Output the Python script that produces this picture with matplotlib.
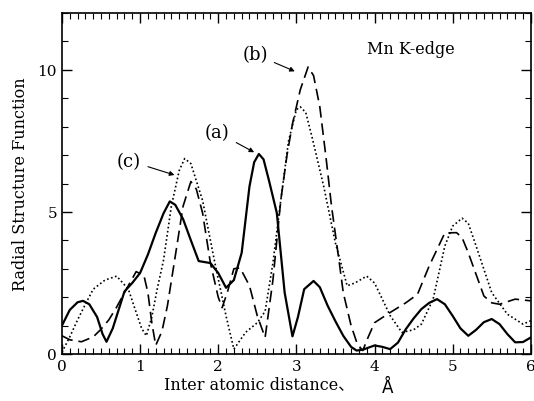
import matplotlib
matplotlib.use("Agg")
import matplotlib.pyplot as plt
from matplotlib.ticker import MultipleLocator

# curve (a): solid
xa = [0.0, 0.1, 0.2, 0.27, 0.35, 0.45, 0.52, 0.57, 0.65, 0.8, 0.9, 1.0, 1.1, 1.2, 1.3, 1.38,
      1.45, 1.55, 1.65, 1.75, 1.9, 2.0, 2.1, 2.2, 2.3, 2.4, 2.46, 2.52, 2.58, 2.65, 2.75, 2.85,
      2.95, 3.02, 3.1, 3.22, 3.3, 3.4, 3.5, 3.6, 3.7, 3.77, 3.85, 4.0, 4.1, 4.2, 4.3, 4.4, 4.5,
      4.6, 4.7, 4.8, 4.9, 5.0, 5.1, 5.2, 5.3, 5.4, 5.5, 5.6, 5.7, 5.8, 5.9, 6.0]
ya = [1.0, 1.55, 1.82, 1.87, 1.75, 1.3, 0.7, 0.43, 0.9, 2.2, 2.5, 2.85, 3.5, 4.26, 4.95, 5.37,
      5.25, 4.75, 4.0, 3.27, 3.2, 2.85, 2.33, 2.6, 3.56, 5.9, 6.75, 7.04, 6.85, 6.1, 4.96, 2.16,
      0.62, 1.3, 2.28, 2.57, 2.35, 1.7, 1.15, 0.64, 0.25, 0.12, 0.15, 0.3, 0.25, 0.17, 0.4, 0.87, 1.25,
      1.58, 1.8, 1.93, 1.75, 1.34, 0.9, 0.64, 0.85, 1.12, 1.23, 1.05, 0.7, 0.41, 0.42, 0.58]

# curve (b): dashed
xb = [0.0, 0.1, 0.25, 0.4, 0.5, 0.6, 0.7, 0.8, 0.95, 1.05, 1.1, 1.15, 1.2, 1.28, 1.35, 1.45,
      1.55, 1.65, 1.72, 1.8, 1.9, 2.0, 2.05, 2.12, 2.2, 2.28, 2.4, 2.5, 2.6, 2.7, 2.8, 2.88,
      2.95, 3.05, 3.15, 3.22, 3.3, 3.38, 3.45, 3.55, 3.6, 3.7, 3.78, 3.85, 3.92, 4.0, 4.2,
      4.4, 4.55, 4.7, 4.9, 5.05, 5.12, 5.2, 5.3, 5.4, 5.5, 5.6, 5.8, 6.0]
yb = [0.64, 0.5, 0.43, 0.6, 0.87, 1.2, 1.65, 2.16, 2.9, 2.75, 2.16, 1.1, 0.3, 0.8, 1.7, 3.44,
      5.2, 6.07, 5.8, 4.96, 3.2, 2.0, 1.63, 2.2, 3.0, 3.03, 2.4, 1.34, 0.58, 2.6, 5.4, 7.0,
      8.1, 9.3, 10.1, 9.8, 8.7, 6.9, 5.2, 3.2, 2.16, 1.0, 0.35, 0.12, 0.6, 1.1, 1.46,
      1.8, 2.1, 3.1, 4.26, 4.27, 4.1, 3.56, 2.8, 2.04, 1.8, 1.75, 1.93, 1.87]

# curve (c): dotted
xc = [0.0, 0.1, 0.2, 0.3, 0.4, 0.55, 0.7, 0.85, 0.95, 1.02, 1.08, 1.15, 1.22, 1.3, 1.4, 1.5,
      1.57, 1.65, 1.8, 1.95, 2.1, 2.2, 2.35, 2.5, 2.6, 2.7, 2.8, 2.9, 3.0, 3.05, 3.12, 3.2,
      3.35, 3.5, 3.65, 3.75, 3.9, 4.0, 4.1, 4.2, 4.35, 4.5, 4.6, 4.75, 4.9, 5.0, 5.12, 5.2,
      5.3, 5.5, 5.7, 5.9, 6.0]
yc = [0.06, 0.6, 1.2, 1.75, 2.28, 2.6, 2.74, 2.28, 1.46, 0.9, 0.64, 1.3, 2.3, 3.3, 5.2, 6.45,
      6.88, 6.7, 5.4, 3.3, 1.34, 0.17, 0.76, 1.1, 1.5, 3.2, 5.4, 7.5, 8.6, 8.7, 8.5, 7.64,
      5.9, 3.9, 2.4, 2.5, 2.74, 2.5, 1.93, 1.35, 0.76, 0.85, 1.05, 1.93, 3.8, 4.5, 4.78, 4.6,
      3.8, 2.16, 1.4, 1.05, 1.17]

# annotation labels: (text, text position, arrow tip)
labels = ["(a)", "(b)", "(c)"]
label_xy = [(1.99, 7.8), (2.47, 10.55), (0.86, 6.8)]
arrow_xy = [(2.46, 7.1), (2.98, 9.95), (1.44, 6.3)]

serif = ["DejaVu Serif", "Noto Sans CJK JP"]

fig = plt.figure(figsize=(5.34, 4.02), dpi=100)
ax = fig.add_axes([0.116, 0.117, 0.878, 0.848])

ax.plot(xa, ya, color="black", lw=1.6, ls="-")
ax.plot(xb, yb, color="black", lw=1.2, ls=(0, (7, 3.5)))
ax.plot(xc, yc, color="black", lw=1.2, ls=(0, (1, 1.5)))

for txt, xy, tip in zip(labels, label_xy, arrow_xy):
    ax.annotate(txt, xy=tip, xytext=xy, fontsize=13, family=serif,
                ha="center", va="center",
                arrowprops=dict(arrowstyle="-|>", color="black", lw=0.8,
                                mutation_scale=7, shrinkA=3, shrinkB=0))

ax.text(4.47, 10.75, "Mn K-edge", fontsize=11.5, family=serif, ha="center", va="center")

ax.set_xlim(0, 6)
ax.set_ylim(0, 12)
ax.set_xticks([0, 1, 2, 3, 4, 5, 6])
ax.set_yticks([0, 5, 10])
ax.xaxis.set_minor_locator(MultipleLocator(0.1))
ax.yaxis.set_minor_locator(MultipleLocator(1))
ax.tick_params(which="both", direction="in", top=True, right=True, labelsize=11)
ax.tick_params(which="major", length=7, width=1)
ax.tick_params(which="minor", length=4, width=0.8)
for lab in ax.get_xticklabels() + ax.get_yticklabels():
    lab.set_family(serif)
for s in ax.spines.values():
    s.set_linewidth(1.2)

ax.set_xlabel("Inter atomic distance、", fontsize=11.5, family=serif, labelpad=2)
ax.xaxis.label.set_x(0.42)
fig.text(0.725, 0.035, "Å", fontsize=12, family="DejaVu Sans", ha="center", va="center")
ax.set_ylabel("Radial Structure Function", fontsize=11.5, family=serif, labelpad=6)

fig.savefig("out.png", dpi=100, facecolor="white")
